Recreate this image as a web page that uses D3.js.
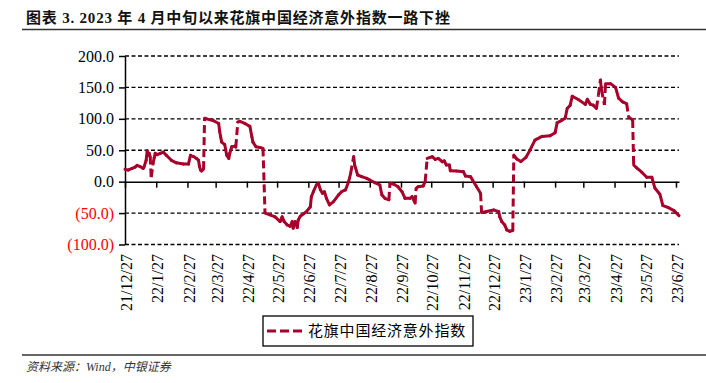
<!DOCTYPE html>
<html><head><meta charset="utf-8">
<script src="https://cdn.jsdelivr.net/npm/d3@7"></script>
<style>body{margin:0;background:#fff}svg{display:block}</style>
</head><body>
<svg id="c" width="706" height="383"></svg>
<script>
const title = "图表 3. 2023 年 4 月中旬以来花旗中国经济意外指数一路下挫";
const source = "资料来源：Wind，中银证券";
const seriesName = "花旗中国经济意外指数";
const dates = [
"2021-12-27","2021-12-30","2022-01-03","2022-01-06","2022-01-08","2022-01-11","2022-01-14","2022-01-15","2022-01-17","2022-01-18",
"2022-01-19","2022-01-20","2022-01-21","2022-01-22","2022-01-24","2022-01-25","2022-01-26","2022-01-28","2022-01-31","2022-02-03",
"2022-02-06","2022-02-11","2022-02-16","2022-02-23","2022-02-28","2022-03-02","2022-03-05","2022-03-08","2022-03-10","2022-03-11",
"2022-03-12","2022-03-13","2022-03-15","2022-03-16","2022-03-18","2022-03-25","2022-03-30","2022-03-31","2022-04-01","2022-04-02",
"2022-04-05","2022-04-07","2022-04-09","2022-04-10","2022-04-12","2022-04-15","2022-04-16","2022-04-18","2022-04-20","2022-04-25",
"2022-04-30","2022-05-02","2022-05-03","2022-05-06","2022-05-10","2022-05-13","2022-05-15","2022-05-20","2022-05-25","2022-05-30",
"2022-06-01","2022-06-03","2022-06-06","2022-06-09","2022-06-11","2022-06-12","2022-06-14","2022-06-16","2022-06-17","2022-06-19",
"2022-06-25","2022-06-29","2022-06-30","2022-07-02","2022-07-05","2022-07-07","2022-07-09","2022-07-11","2022-07-13","2022-07-15",
"2022-07-18","2022-07-22","2022-07-27","2022-07-30","2022-08-03","2022-08-06","2022-08-08","2022-08-11","2022-08-12","2022-08-15",
"2022-08-19","2022-08-24","2022-08-27","2022-09-01","2022-09-06","2022-09-08","2022-09-11","2022-09-15","2022-09-16","2022-09-20",
"2022-09-24","2022-09-28","2022-10-01","2022-10-06","2022-10-08","2022-10-11","2022-10-12","2022-10-14","2022-10-19","2022-10-21",
"2022-10-23","2022-10-28","2022-10-31","2022-11-03","2022-11-07","2022-11-09","2022-11-11","2022-11-14","2022-11-15","2022-11-21",
"2022-11-28","2022-11-30","2022-12-05","2022-12-07","2022-12-11","2022-12-15","2022-12-16","2022-12-21","2022-12-28","2023-01-02",
"2023-01-03","2023-01-05","2023-01-08","2023-01-10","2023-01-13","2023-01-16","2023-01-17","2023-01-20","2023-01-24","2023-01-29",
"2023-02-02","2023-02-07","2023-02-14","2023-02-22","2023-02-27","2023-03-01","2023-03-06","2023-03-09","2023-03-11","2023-03-14",
"2023-03-16","2023-03-22","2023-03-29","2023-03-31","2023-04-03","2023-04-06","2023-04-09","2023-04-11","2023-04-13","2023-04-14",
"2023-04-17","2023-04-18","2023-04-23","2023-04-28","2023-05-01","2023-05-05","2023-05-09","2023-05-11","2023-05-15","2023-05-16",
"2023-05-19","2023-05-24","2023-05-29","2023-06-03","2023-06-06","2023-06-11","2023-06-14","2023-06-19","2023-06-25","2023-06-30"
];
const values = [
19.6,18.5,21,23,26,24,21,24,34,49,
42,45,40,7,30,38,45,43,45,47,
42,34,30,28,28,42,40,37,34,24,
18.5,17,20,101,100,97,92.6,80,71,63,
59,42,37,45,55.6,56.6,55,95,96,92.6,
88,71,63,55.6,54.5,53,-50,-53,-56,-63.5,
-56,-63.5,-68.8,-71,-63.5,-74,-63.5,-73,-61,-55,
-48,-40,-24,-16,-5.3,-2.6,-13,-18.5,-16,-26.5,
-37,-31.7,-21,-16,-13,0,13,40,26.5,10.6,
8,5.3,2.6,-1.6,-5.3,-21,-26.5,-29,-2.6,-4.2,
-8,-16,-26.5,-26.5,-23.8,-34,-10.6,-8,-6.9,0,
37,39.7,35.4,37,31.7,33,26.5,26.5,17.5,17,
15.9,9,8,2.6,-8,-18.5,-49,-47.6,-45,-47.6,
-55.6,-63.5,-68.8,-76.7,-79,-77.8,42.3,36,32,38.6,
50,66,72,73,78,93.6,98,101,116.4,121.7,
136,130.7,123,131,123,121.7,116.4,137.6,162,146.6,
122,156,156,150,133,127,124.3,103,98,26.5,
22,15,7,7,-10,-20,-38,-41,-46,-54
];
const yTicks = [200,150,100,50,0,-50,-100];
const yTickLabels = ["200.0","150.0","100.0","50.0","0.0","(50.0)","(100.0)"];
const xTickDates = ["2021-12-27","2022-01-27","2022-02-27","2022-03-27","2022-04-27","2022-05-27","2022-06-27","2022-07-27","2022-08-27","2022-09-27","2022-10-27","2022-11-27","2022-12-27","2023-01-27","2023-02-27","2023-03-27","2023-04-27","2023-05-27","2023-06-27"];
const xTickLabels = ["21/12/27","22/1/27","22/2/27","22/3/27","22/4/27","22/5/27","22/6/27","22/7/27","22/8/27","22/9/27","22/10/27","22/11/27","22/12/27","23/1/27","23/2/27","23/3/27","23/4/27","23/5/27","23/6/27"];

const parse = d3.utcParse("%Y-%m-%d");
const data = dates.map((d,i)=>({date:parse(d), value:values[i]}));
const svg = d3.select("#c");
const serif = "'Liberation Serif','Times New Roman','Noto Sans CJK SC',serif";
const cjk = "'Liberation Serif','Noto Sans CJK SC',sans-serif";
const red = "#A8002A";

const x = d3.scaleUtc().domain([parse("2021-12-27"), parse("2023-06-30")]).range([125, 679]);
const y = d3.scaleLinear().domain([-100, 200]).range([244.5, 56]);

// title and rules
svg.append("text").attr("x",26).attr("y",23).text(title)
  .attr("font-family",cjk).attr("font-weight","bold").attr("font-size",15)
  .attr("letter-spacing",0.8).attr("fill","#111");
svg.append("line").attr("x1",22).attr("x2",706).attr("y1",29.5).attr("y2",29.5).attr("stroke","#333").attr("stroke-width",1.3);
svg.append("line").attr("x1",22).attr("x2",706).attr("y1",355).attr("y2",355).attr("stroke","#333").attr("stroke-width",1.3);
svg.append("text").attr("x",26).attr("y",371).text(source)
  .attr("font-family",cjk).attr("font-style","italic").attr("font-size",12).attr("fill","#333");

// gridlines
svg.append("g").selectAll("line").data(yTicks.filter(v=>v!==0)).join("line")
  .attr("x1",125).attr("x2",679).attr("y1",d=>y(d)).attr("y2",d=>y(d))
  .attr("stroke","#000").attr("stroke-width",1.3).attr("stroke-dasharray","4,2.5");

// y axis
const yAxis = svg.append("g").attr("transform","translate(125,0)")
  .call(d3.axisLeft(y).tickValues(yTicks).tickFormat((d,i)=>yTickLabels[i]).tickSize(6).tickSizeOuter(0).tickPadding(5));
yAxis.select(".domain").attr("stroke","#000").attr("stroke-width",1.5);
yAxis.selectAll(".tick line").attr("stroke","#000").attr("stroke-width",1.5);
yAxis.selectAll(".tick text").attr("font-family",serif).attr("font-size",16)
  .attr("fill",d=>d<0?"#ff0000":"#000");

// x axis at zero
const xAxis = svg.append("g").attr("transform",`translate(0,${y(0)})`)
  .call(d3.axisBottom(x).tickValues(xTickDates.map(parse)).tickFormat("").tickSize(6).tickSizeOuter(0));
xAxis.select(".domain").attr("stroke","#000").attr("stroke-width",1.5);
xAxis.selectAll(".tick line").attr("stroke","#000").attr("stroke-width",1.5);

// x labels
svg.append("g").selectAll("text").data(xTickDates).join("text")
  .attr("transform",(d)=>`translate(${x(parse(d))+1.5},254) rotate(-90)`)
  .attr("text-anchor","end").attr("dy","0.35em")
  .attr("font-family",serif).attr("font-size",16).attr("fill","#000")
  .text((d,i)=>xTickLabels[i]);

// series: each segment drawn separately so long jumps show dashes
const segs = d3.pairs(data);
const lineGen = d3.line().x(d=>x(d.date)).y(d=>y(d.value));
svg.append("g").selectAll("path").data(segs).join("path")
  .attr("d",d=>lineGen(d))
  .attr("fill","none").attr("stroke",red).attr("stroke-width",3)
  .each(function(d){
    const dx = x(d[1].date)-x(d[0].date), dy = y(d[1].value)-y(d[0].value);
    const len = Math.hypot(dx,dy);
    const s = d3.select(this);
    if (len > 12) s.attr("stroke-dasharray","8,4").attr("stroke-linecap","butt");
    else s.attr("stroke-linecap","round").attr("stroke-linejoin","round");
  });

// legend
const lg = svg.append("g");
lg.append("rect").attr("x",263).attr("y",316).attr("width",210).attr("height",30)
  .attr("fill","#fff").attr("stroke","#000").attr("stroke-width",1.3);
lg.append("line").attr("x1",267).attr("x2",302).attr("y1",331).attr("y2",331)
  .attr("stroke",red).attr("stroke-width",3).attr("stroke-dasharray","9,4");
lg.append("text").attr("x",308).attr("y",331).attr("dy","0.35em").text(seriesName)
  .attr("font-family","'Noto Sans CJK SC',sans-serif").attr("font-size",15)
  .attr("letter-spacing",0.8).attr("fill","#000");
</script>
</body></html>
